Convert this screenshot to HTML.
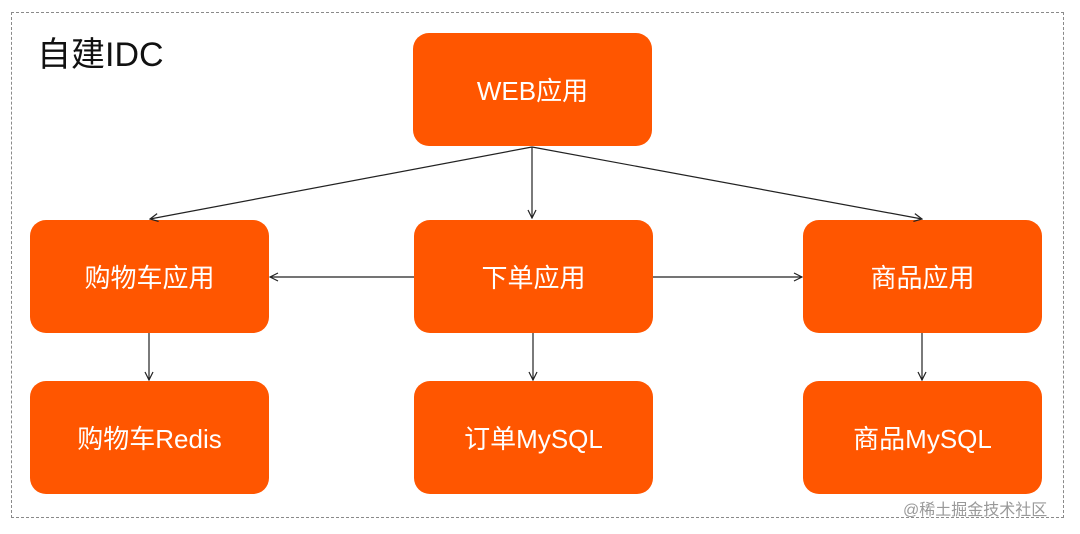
<!DOCTYPE html>
<html><head><meta charset="utf-8"><style>
body{margin:0;width:1080px;height:534px;background:#fff;position:relative;overflow:hidden;font-family:"Liberation Sans","Noto Sans CJK SC",sans-serif}
.frame{position:absolute;left:11px;top:12px;width:1053px;height:506px;border:1.5px dashed #8a8a8a;box-sizing:border-box}
.b{position:absolute;width:239px;height:113px;background:#ff5600;border-radius:16px;color:#fff;font-size:26px;display:flex;align-items:center;justify-content:center}
.t{position:absolute;left:37px;top:27px;font-size:34px;color:#111}
.wm{position:absolute;left:903px;top:496px;font-size:16px;color:#999}
svg{position:absolute;left:0;top:0}
</style></head><body>
<div class="frame"></div>
<div class="t">自建IDC</div>
<div class="b" style="left:413px;top:33px">WEB应用</div>
<div class="b" style="left:30px;top:220px">购物车应用</div>
<div class="b" style="left:414px;top:220px">下单应用</div>
<div class="b" style="left:803px;top:220px">商品应用</div>
<div class="b" style="left:30px;top:381px">购物车Redis</div>
<div class="b" style="left:414px;top:381px">订单MySQL</div>
<div class="b" style="left:803px;top:381px">商品MySQL</div>
<svg width="1080" height="534">
<defs><marker id="a" markerWidth="10" markerHeight="10" refX="9" refY="5" orient="auto" markerUnits="userSpaceOnUse"><path d="M1,1 L9,5 L1,9" fill="none" stroke="#222" stroke-width="1.2"/></marker></defs>
<g stroke="#222" stroke-width="1.2" fill="none" marker-end="url(#a)">
<line x1="532" y1="147" x2="150" y2="219"/>
<line x1="532" y1="147" x2="532" y2="218"/>
<line x1="532" y1="147" x2="922" y2="219"/>
<line x1="414" y1="277" x2="270" y2="277"/>
<line x1="653" y1="277" x2="802" y2="277"/>
<line x1="149" y1="333" x2="149" y2="380"/>
<line x1="533" y1="333" x2="533" y2="380"/>
<line x1="922" y1="333" x2="922" y2="380"/>
</g></svg>
<div class="wm">@稀土掘金技术社区</div>
</body></html>
